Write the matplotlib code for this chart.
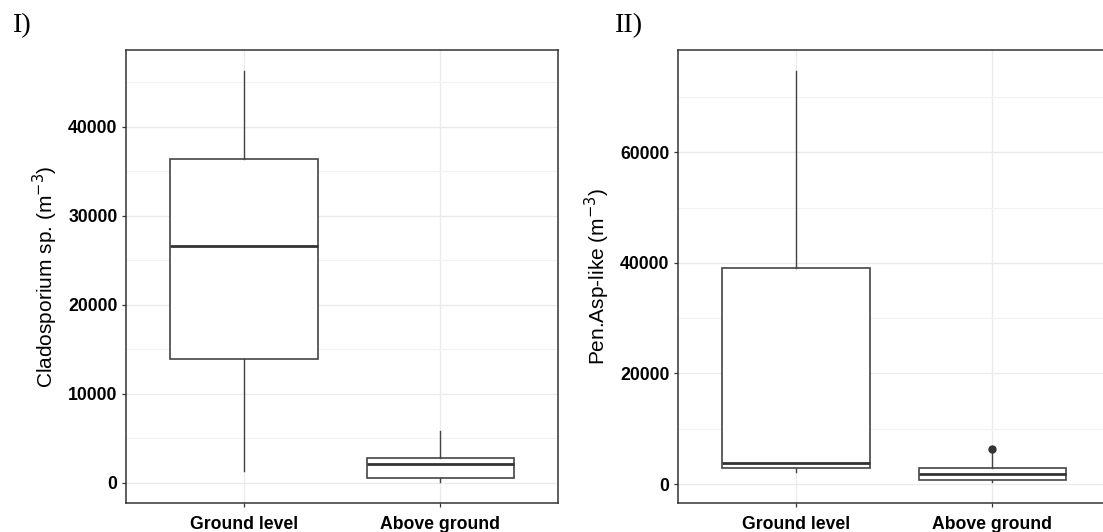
import matplotlib
matplotlib.use("Agg")
import matplotlib.pyplot as plt
from matplotlib.ticker import MultipleLocator

W, H = 1103, 532
categories = ["Ground level", "Above ground"]

# Panel I: Cladosporium sp.
clad_whislo = [1350, 150]
clad_q1 = [13900, 520]
clad_med = [26650, 2170]
clad_q3 = [36400, 2840]
clad_whishi = [46250, 5870]
clad_fliers = [[], []]

# Panel II: Pen.Asp-like
pen_whislo = [2100, 360]
pen_q1 = [2840, 780]
pen_med = [3860, 1870]
pen_q3 = [39130, 2950]
pen_whishi = [74700, 6250]
pen_fliers = [[], [6390]]

fig = plt.figure(figsize=(W / 100, H / 100), dpi=100)
fig.patch.set_facecolor("white")

def px_axes(x0, y0, x1, y1):
    return fig.add_axes([x0 / W, 1 - y1 / H, (x1 - x0) / W, (y1 - y0) / H])

def draw(ax, whislo, q1, med, q3, whishi, fliers, ylim, xlim, major, minor, ylabel, lpad):
    stats = []
    for i in range(len(categories)):
        stats.append(dict(whislo=whislo[i], q1=q1[i], med=med[i], q3=q3[i],
                          whishi=whishi[i], fliers=fliers[i], label=categories[i]))
    ax.set_axisbelow(True)
    ax.bxp(stats, positions=[1, 2], widths=0.75, showcaps=False, patch_artist=True,
           boxprops=dict(facecolor="white", edgecolor="#444444", linewidth=1.2),
           medianprops=dict(color="#333333", linewidth=2.0),
           whiskerprops=dict(color="#444444", linewidth=1.0),
           flierprops=dict(marker="o", markerfacecolor="#333333", markeredgecolor="#333333",
                           markersize=5))
    ax.set_ylim(*ylim)
    ax.set_xlim(*xlim)
    ax.yaxis.set_major_locator(MultipleLocator(major))
    ax.yaxis.set_minor_locator(MultipleLocator(minor))
    ax.set_xticks([1, 2])
    ax.set_xticklabels(categories)
    ax.grid(True, which="major", color="#ebebeb", linewidth=1.0)
    ax.grid(True, which="minor", axis="y", color="#f2f2f2", linewidth=0.8)
    ax.tick_params(axis="both", which="major", length=3.2, width=0.9, color="#333333",
                   labelsize=12.7, labelcolor="black")
    ax.tick_params(axis="y", which="major", pad=3)
    ax.tick_params(axis="x", which="major", pad=6)
    ax.tick_params(axis="y", which="minor", length=0)
    for lab in ax.get_xticklabels() + ax.get_yticklabels():
        lab.set_fontweight("bold")
        lab.set_fontfamily("Liberation Sans")
    for s in ax.spines.values():
        s.set_color("#333333")
        s.set_linewidth(1.1)
    ax.set_ylabel(ylabel, fontsize=15, family="Liberation Sans", labelpad=lpad)

ax1 = px_axes(126, 50, 558.3, 503.3)
draw(ax1, clad_whislo, clad_q1, clad_med, clad_q3, clad_whishi, clad_fliers,
     (-2280, 48610), (0.4, 2.6), 10000, 5000, r"Cladosporium sp. (m$^{-3}$)", 6)

ax2 = px_axes(677.9, 50, 1110.4, 503.3)
draw(ax2, pen_whislo, pen_q1, pen_med, pen_q3, pen_whishi, pen_fliers,
     (-3490, 78510), (0.4, 2.6), 20000, 10000, r"Pen.Asp-like (m$^{-3}$)", 6)

fig.text(12.5 / W, 1 - 32.3 / H, "I)", family="Liberation Serif", fontsize=20.5,
         va="baseline", ha="left")
fig.text(614.5 / W, 1 - 32.3 / H, "II)", family="Liberation Serif", fontsize=20.5,
         va="baseline", ha="left")

fig.savefig("out.png", dpi=100, facecolor="white")
